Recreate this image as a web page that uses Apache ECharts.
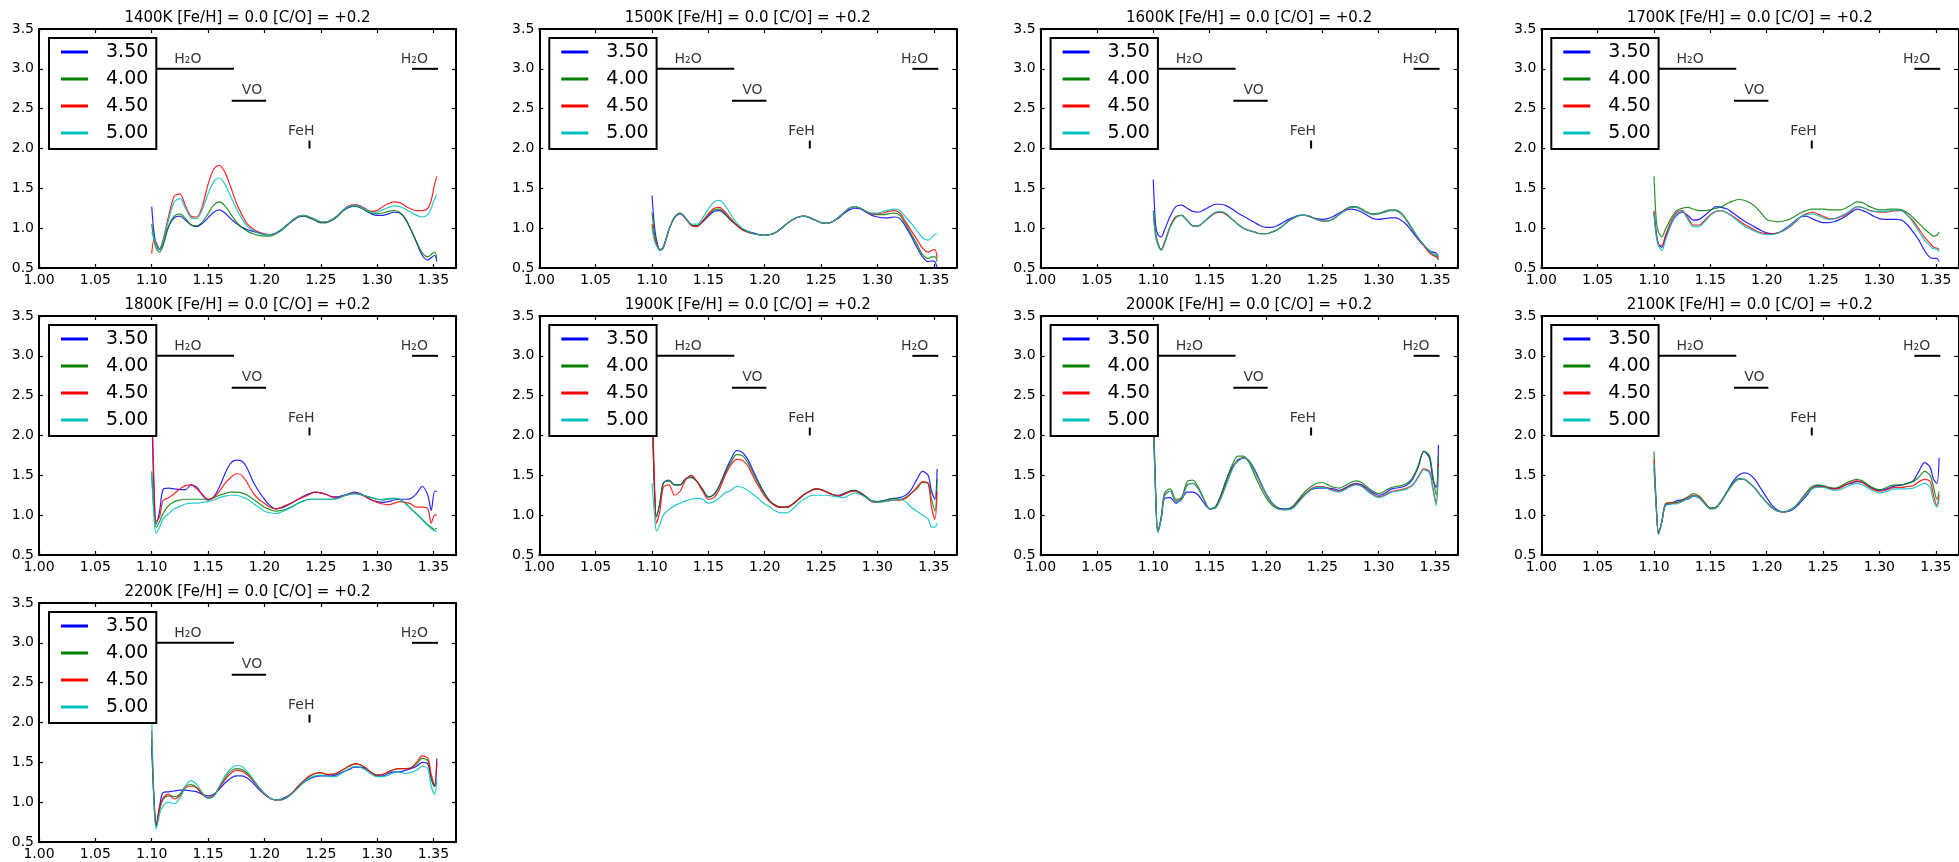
<!DOCTYPE html>
<html>
<head>
<meta charset="utf-8">
<script src="https://cdn.jsdelivr.net/npm/echarts/dist/echarts.min.js"></script>
<style>
  html, body { margin: 0; padding: 0; background: #fff; }
  #chart { width: 1959px; height: 862px; }
</style>
</head>
<body>
<div id="chart"></div>
<script>
// Wavelength grid (micron) shared by every spectrum
const wavelength = [
  1.100, 1.102, 1.104, 1.107, 1.110,
  1.115, 1.120, 1.125, 1.130, 1.135,
  1.140, 1.145, 1.150, 1.155, 1.160,
  1.165, 1.170, 1.175, 1.180, 1.185,
  1.190, 1.195, 1.200, 1.205, 1.210,
  1.215, 1.220, 1.225, 1.230, 1.235,
  1.240, 1.245, 1.250, 1.255, 1.260,
  1.265, 1.270, 1.275, 1.280, 1.285,
  1.290, 1.295, 1.300, 1.305, 1.310,
  1.315, 1.320, 1.325, 1.330, 1.335,
  1.340, 1.345, 1.348, 1.351, 1.353
];

// Surface gravities (log g) shown in each legend
const gravities = ['3.50', '4.00', '4.50', '5.00'];

// Effective temperatures, one panel each
const temperatures = ['1400K', '1500K', '1600K', '1700K', '1800K', '1900K', '2000K', '2100K', '2200K'];
const titleSuffix = ' [Fe/H] = 0.0 [C/O] = +0.2';

// Axis ticks
const xTicks = [1.00, 1.05, 1.10, 1.15, 1.20, 1.25, 1.30, 1.35];
const yTicks = [0.5, 1.0, 1.5, 2.0, 2.5, 3.0, 3.5];

// Absorption band markers: [x0, x1, y0, y1]
const bandLines = [
  [1.090, 1.173, 3.0, 3.0],
  [1.171, 1.2015, 2.6, 2.6],
  [1.240, 1.240, 2.0, 2.1],
  [1.331, 1.354, 3.0, 3.0]
];
// Band names: [text, x, y]
const bandLabels = [
  ['H₂O', 1.120, 3.12],
  ['VO', 1.180, 2.73],
  ['FeH', 1.221, 2.21],
  ['H₂O', 1.321, 3.12]
];

// Normalised flux per panel, one row per gravity (3.50, 4.00, 4.50, 5.00)
const flux1400 = [
  [1.27,0.95,0.80,0.73,0.80, 1.02,1.13,1.15,1.10,1.04, 1.02,1.06,1.13,1.20,1.23, 1.19,1.12,1.06,1.01,0.98, 0.96,0.94,0.92,0.92,0.94, 0.98,1.04,1.09,1.14,1.15, 1.13,1.10,1.07,1.07,1.10, 1.15,1.22,1.26,1.28,1.26, 1.22,1.18,1.16,1.16,1.18, 1.20,1.19,1.12,0.98,0.82, 0.66,0.60,0.63,0.66,0.58],
  [1.05,0.85,0.75,0.70,0.78, 1.02,1.15,1.18,1.12,1.04, 1.03,1.08,1.18,1.29,1.33, 1.28,1.18,1.08,1.01,0.96, 0.93,0.91,0.90,0.90,0.93, 0.98,1.04,1.10,1.14,1.15, 1.13,1.10,1.07,1.07,1.10, 1.15,1.22,1.27,1.28,1.26, 1.22,1.19,1.18,1.19,1.21, 1.22,1.20,1.12,0.98,0.83, 0.69,0.64,0.67,0.70,0.62],
  [0.68,0.85,0.82,0.74,0.85, 1.15,1.40,1.43,1.28,1.15, 1.14,1.28,1.55,1.74,1.79, 1.70,1.52,1.32,1.17,1.05, 0.99,0.95,0.93,0.92,0.93, 0.97,1.03,1.10,1.15,1.16, 1.14,1.11,1.08,1.08,1.11, 1.16,1.23,1.28,1.30,1.28, 1.24,1.21,1.22,1.27,1.31, 1.33,1.32,1.28,1.24,1.22, 1.22,1.25,1.35,1.55,1.65],
  [0.95,0.88,0.80,0.74,0.83, 1.10,1.33,1.37,1.25,1.13, 1.12,1.24,1.43,1.58,1.63, 1.55,1.40,1.25,1.12,1.02, 0.97,0.94,0.92,0.92,0.93, 0.97,1.03,1.10,1.15,1.16, 1.14,1.11,1.08,1.08,1.11, 1.16,1.23,1.27,1.29,1.27, 1.23,1.20,1.20,1.23,1.26, 1.28,1.27,1.24,1.20,1.16, 1.14,1.17,1.25,1.37,1.42]
];
const flux1500 = [
  [1.41,1.05,0.85,0.73,0.76, 0.98,1.13,1.18,1.12,1.04, 1.03,1.08,1.15,1.21,1.22, 1.17,1.10,1.04,0.99,0.96, 0.94,0.92,0.91,0.92,0.95, 1.00,1.06,1.11,1.14,1.15, 1.13,1.10,1.07,1.06,1.08, 1.12,1.18,1.23,1.25,1.24, 1.20,1.16,1.14,1.13,1.13, 1.14,1.12,1.02,0.90,0.76, 0.64,0.58,0.59,0.58,0.50],
  [1.20,0.95,0.82,0.72,0.75, 0.98,1.14,1.19,1.12,1.04, 1.03,1.09,1.17,1.23,1.24, 1.18,1.10,1.04,0.98,0.95, 0.93,0.92,0.91,0.92,0.95, 1.00,1.06,1.11,1.14,1.15, 1.13,1.10,1.07,1.06,1.08, 1.13,1.19,1.25,1.27,1.25, 1.21,1.18,1.17,1.17,1.18, 1.19,1.16,1.05,0.93,0.80, 0.67,0.62,0.64,0.64,0.58],
  [1.05,0.88,0.80,0.73,0.76, 0.98,1.14,1.19,1.12,1.03, 1.02,1.09,1.18,1.25,1.26, 1.20,1.12,1.04,0.98,0.95, 0.93,0.92,0.91,0.92,0.95, 1.00,1.06,1.11,1.14,1.15, 1.13,1.10,1.07,1.06,1.08, 1.13,1.19,1.25,1.27,1.25, 1.21,1.18,1.18,1.19,1.21, 1.22,1.19,1.08,0.97,0.86, 0.75,0.70,0.72,0.73,0.62],
  [1.00,0.85,0.78,0.72,0.76, 0.98,1.14,1.19,1.13,1.05, 1.05,1.13,1.24,1.33,1.35, 1.28,1.17,1.07,1.00,0.96, 0.93,0.92,0.91,0.92,0.95, 1.00,1.06,1.11,1.14,1.15, 1.13,1.10,1.07,1.06,1.08, 1.13,1.19,1.25,1.27,1.25, 1.21,1.19,1.19,1.21,1.23, 1.24,1.22,1.14,1.06,0.97, 0.88,0.85,0.88,0.92,0.93]
];
const flux1600 = [
  [1.61,1.05,0.92,0.89,0.98, 1.15,1.27,1.29,1.25,1.21, 1.20,1.23,1.27,1.30,1.30, 1.28,1.24,1.19,1.15,1.11, 1.07,1.03,1.01,1.01,1.03, 1.07,1.11,1.14,1.16,1.16, 1.14,1.12,1.11,1.12,1.15, 1.19,1.22,1.24,1.23,1.20, 1.16,1.12,1.11,1.12,1.13, 1.13,1.10,1.04,0.95,0.86, 0.78,0.72,0.70,0.69,0.64],
  [1.22,0.95,0.82,0.73,0.82, 1.02,1.14,1.16,1.10,1.03, 1.03,1.08,1.14,1.19,1.20, 1.17,1.11,1.05,1.00,0.97, 0.95,0.93,0.93,0.95,0.98, 1.03,1.09,1.13,1.16,1.16, 1.14,1.11,1.09,1.09,1.12, 1.17,1.23,1.27,1.27,1.24, 1.20,1.18,1.19,1.21,1.23, 1.23,1.19,1.10,0.99,0.88, 0.79,0.70,0.67,0.65,0.60],
  [1.18,0.92,0.80,0.73,0.82, 1.02,1.14,1.16,1.10,1.03, 1.03,1.08,1.14,1.19,1.20, 1.17,1.11,1.05,1.00,0.97, 0.95,0.93,0.93,0.95,0.98, 1.03,1.09,1.13,1.16,1.16, 1.14,1.11,1.09,1.09,1.12, 1.17,1.23,1.26,1.26,1.23, 1.19,1.17,1.18,1.20,1.22, 1.22,1.18,1.09,0.98,0.87, 0.78,0.69,0.66,0.64,0.62],
  [1.20,0.90,0.79,0.72,0.80, 1.01,1.13,1.16,1.10,1.03, 1.03,1.08,1.15,1.20,1.21, 1.18,1.11,1.05,1.00,0.97, 0.95,0.93,0.93,0.95,0.98, 1.03,1.09,1.13,1.16,1.16, 1.14,1.11,1.09,1.09,1.12, 1.17,1.22,1.26,1.26,1.23, 1.19,1.17,1.18,1.20,1.22, 1.22,1.18,1.09,0.98,0.88, 0.79,0.72,0.68,0.67,0.64]
];
const flux1700 = [
  [1.20,0.95,0.80,0.76,0.88, 1.05,1.16,1.20,1.16,1.10, 1.11,1.16,1.22,1.27,1.26, 1.24,1.19,1.14,1.09,1.05, 1.01,0.97,0.94,0.93,0.94, 0.98,1.03,1.09,1.14,1.15, 1.12,1.09,1.07,1.07,1.08, 1.11,1.15,1.20,1.24,1.22, 1.19,1.15,1.12,1.11,1.11, 1.11,1.10,1.04,0.95,0.85, 0.72,0.63,0.62,0.62,0.58],
  [1.65,1.10,0.95,0.89,0.98, 1.12,1.22,1.25,1.26,1.24, 1.22,1.22,1.23,1.25,1.27, 1.31,1.34,1.36,1.35,1.32, 1.27,1.19,1.11,1.09,1.08, 1.09,1.11,1.15,1.19,1.22, 1.24,1.24,1.24,1.23,1.23, 1.23,1.25,1.29,1.33,1.32, 1.28,1.25,1.23,1.23,1.24, 1.24,1.23,1.19,1.13,1.06, 0.99,0.93,0.90,0.91,0.95],
  [1.22,0.92,0.80,0.78,0.90, 1.08,1.20,1.22,1.13,1.04, 1.04,1.10,1.17,1.21,1.22, 1.19,1.15,1.10,1.05,1.01, 0.97,0.94,0.93,0.93,0.94, 0.97,1.01,1.07,1.14,1.18, 1.20,1.18,1.15,1.12,1.12, 1.14,1.17,1.22,1.27,1.26, 1.23,1.21,1.20,1.20,1.21, 1.22,1.22,1.16,1.09,0.99, 0.89,0.81,0.76,0.75,0.73],
  [1.18,0.90,0.78,0.72,0.84, 1.04,1.18,1.21,1.11,1.02, 1.02,1.08,1.16,1.21,1.22, 1.19,1.14,1.08,1.03,0.99, 0.96,0.93,0.92,0.92,0.94, 0.97,1.02,1.08,1.14,1.17, 1.18,1.16,1.13,1.11,1.12, 1.15,1.18,1.23,1.27,1.26, 1.23,1.21,1.21,1.21,1.22, 1.23,1.22,1.16,1.07,0.96, 0.85,0.78,0.74,0.74,0.70]
];
const flux1800 = [
  [2.40,1.30,0.89,1.05,1.32, 1.34,1.33,1.32,1.32,1.38, 1.35,1.25,1.19,1.23,1.35, 1.52,1.65,1.69,1.68,1.58, 1.42,1.30,1.20,1.12,1.08, 1.09,1.12,1.16,1.20,1.24, 1.27,1.29,1.28,1.26,1.23, 1.23,1.25,1.27,1.29,1.27, 1.23,1.19,1.17,1.16,1.17, 1.19,1.20,1.20,1.21,1.27, 1.36,1.25,1.06,1.30,1.30],
  [1.55,1.05,0.85,0.92,1.02, 1.12,1.17,1.19,1.20,1.20, 1.20,1.20,1.20,1.22,1.25, 1.27,1.29,1.29,1.28,1.25, 1.20,1.15,1.10,1.07,1.05, 1.06,1.08,1.11,1.15,1.18, 1.20,1.20,1.20,1.20,1.20, 1.21,1.24,1.26,1.27,1.26, 1.24,1.22,1.20,1.19,1.20, 1.21,1.20,1.15,1.08,1.02, 0.95,0.88,0.85,0.82,0.84],
  [2.60,1.40,0.92,0.98,1.18, 1.22,1.27,1.33,1.37,1.38, 1.33,1.26,1.20,1.22,1.30, 1.40,1.47,1.52,1.50,1.40, 1.28,1.20,1.15,1.10,1.08, 1.10,1.13,1.16,1.20,1.23, 1.26,1.29,1.28,1.26,1.23, 1.22,1.24,1.26,1.28,1.26, 1.23,1.19,1.16,1.14,1.13, 1.15,1.17,1.16,1.14,1.10, 1.10,1.08,0.90,1.00,1.00],
  [1.50,1.00,0.77,0.85,0.95, 1.02,1.08,1.11,1.14,1.15, 1.15,1.16,1.17,1.19,1.22, 1.24,1.25,1.25,1.23,1.20, 1.15,1.10,1.05,1.03,1.02, 1.04,1.07,1.11,1.15,1.18, 1.20,1.20,1.20,1.20,1.20, 1.21,1.24,1.26,1.27,1.26, 1.24,1.22,1.20,1.20,1.21, 1.21,1.20,1.15,1.08,1.01, 0.94,0.87,0.83,0.80,0.80]
];
const flux1900 = [
  [2.50,1.40,0.98,1.15,1.40, 1.44,1.38,1.38,1.46,1.48, 1.42,1.32,1.23,1.26,1.38, 1.55,1.70,1.81,1.79,1.70, 1.55,1.40,1.27,1.17,1.12, 1.10,1.10,1.14,1.20,1.26, 1.30,1.33,1.32,1.29,1.26, 1.25,1.27,1.30,1.31,1.28, 1.23,1.18,1.17,1.18,1.20, 1.21,1.22,1.25,1.32,1.45, 1.55,1.50,1.30,1.20,1.58],
  [2.40,1.40,0.98,1.15,1.40, 1.43,1.38,1.38,1.46,1.47, 1.42,1.32,1.23,1.26,1.37, 1.53,1.66,1.76,1.75,1.66, 1.52,1.38,1.26,1.17,1.12, 1.10,1.10,1.14,1.20,1.26, 1.30,1.33,1.32,1.29,1.26, 1.24,1.26,1.30,1.31,1.28, 1.23,1.18,1.17,1.18,1.20, 1.21,1.20,1.22,1.28,1.33, 1.41,1.40,1.20,1.05,1.45],
  [2.60,1.50,0.90,1.05,1.35, 1.38,1.25,1.30,1.45,1.50, 1.42,1.30,1.20,1.22,1.33, 1.50,1.63,1.70,1.69,1.62, 1.48,1.35,1.24,1.16,1.11, 1.10,1.10,1.14,1.20,1.26, 1.30,1.33,1.32,1.29,1.26, 1.24,1.26,1.29,1.30,1.27, 1.22,1.17,1.16,1.17,1.18, 1.19,1.19,1.21,1.27,1.35, 1.42,1.40,1.10,0.95,1.30],
  [1.40,1.05,0.80,0.88,1.00, 1.07,1.12,1.15,1.18,1.20, 1.21,1.20,1.15,1.17,1.22, 1.28,1.31,1.36,1.35,1.31, 1.26,1.20,1.14,1.10,1.05, 1.03,1.03,1.08,1.15,1.20, 1.24,1.25,1.25,1.25,1.24, 1.23,1.22,1.25,1.28,1.26, 1.22,1.18,1.16,1.17,1.18, 1.19,1.20,1.17,1.10,1.05, 1.00,0.95,0.85,0.85,0.90]
];
const flux2000 = [
  [2.20,1.30,0.80,0.95,1.21, 1.22,1.15,1.20,1.29,1.29, 1.25,1.15,1.08,1.10,1.25, 1.45,1.60,1.68,1.72,1.68, 1.57,1.42,1.27,1.16,1.10, 1.08,1.08,1.12,1.20,1.27, 1.32,1.34,1.34,1.34,1.33, 1.31,1.34,1.38,1.40,1.38, 1.33,1.28,1.25,1.27,1.32, 1.34,1.35,1.38,1.45,1.60, 1.80,1.72,1.45,1.35,1.88],
  [2.40,1.35,0.79,0.98,1.28, 1.33,1.20,1.22,1.42,1.44, 1.35,1.20,1.08,1.10,1.25, 1.45,1.63,1.74,1.74,1.66, 1.50,1.35,1.22,1.13,1.08, 1.07,1.08,1.13,1.22,1.30, 1.36,1.40,1.41,1.38,1.35, 1.34,1.37,1.41,1.43,1.41, 1.35,1.30,1.27,1.30,1.34, 1.36,1.37,1.40,1.47,1.62, 1.80,1.75,1.50,1.25,1.75],
  [2.30,1.30,0.80,0.97,1.25, 1.30,1.18,1.20,1.38,1.40, 1.33,1.19,1.08,1.09,1.22, 1.40,1.58,1.70,1.72,1.68, 1.55,1.40,1.26,1.15,1.09, 1.07,1.07,1.11,1.19,1.27, 1.33,1.36,1.36,1.34,1.31, 1.30,1.33,1.37,1.39,1.37, 1.31,1.26,1.23,1.25,1.29, 1.31,1.32,1.34,1.38,1.48, 1.58,1.55,1.35,1.15,1.65],
  [2.20,1.28,0.78,0.95,1.24, 1.30,1.17,1.19,1.37,1.40, 1.33,1.19,1.08,1.09,1.21, 1.39,1.57,1.69,1.72,1.68, 1.55,1.41,1.27,1.16,1.09, 1.07,1.07,1.10,1.18,1.26, 1.32,1.35,1.35,1.33,1.30, 1.29,1.32,1.36,1.38,1.36, 1.30,1.25,1.22,1.24,1.28, 1.30,1.31,1.33,1.37,1.47, 1.57,1.53,1.33,1.12,1.60]
];
const flux2100 = [
  [1.60,1.10,0.78,0.92,1.12, 1.14,1.18,1.19,1.20,1.24, 1.22,1.15,1.09,1.10,1.18, 1.30,1.42,1.50,1.53,1.51, 1.44,1.33,1.22,1.12,1.06, 1.04,1.05,1.09,1.16,1.24, 1.33,1.37,1.36,1.34,1.33, 1.35,1.38,1.40,1.42,1.41, 1.37,1.33,1.31,1.32,1.35, 1.37,1.38,1.40,1.43,1.55, 1.66,1.60,1.45,1.40,1.72],
  [1.80,1.15,0.77,0.93,1.14, 1.16,1.16,1.19,1.23,1.27, 1.24,1.16,1.09,1.10,1.19, 1.30,1.40,1.46,1.45,1.40, 1.33,1.24,1.16,1.09,1.05, 1.04,1.06,1.11,1.19,1.28, 1.36,1.38,1.37,1.35,1.34, 1.36,1.40,1.43,1.45,1.43, 1.38,1.34,1.32,1.34,1.37, 1.38,1.38,1.40,1.42,1.48, 1.55,1.50,1.35,1.20,1.30],
  [1.70,1.12,0.76,0.92,1.13, 1.15,1.15,1.18,1.22,1.25, 1.23,1.15,1.08,1.09,1.18, 1.29,1.39,1.45,1.45,1.40, 1.33,1.24,1.16,1.09,1.05, 1.04,1.06,1.10,1.18,1.27, 1.34,1.36,1.36,1.34,1.33, 1.34,1.38,1.41,1.43,1.41, 1.36,1.32,1.30,1.31,1.34, 1.35,1.35,1.36,1.37,1.42, 1.45,1.42,1.25,1.12,1.25],
  [1.65,1.10,0.76,0.91,1.12, 1.14,1.14,1.17,1.21,1.24, 1.22,1.14,1.08,1.09,1.18, 1.29,1.39,1.45,1.45,1.40, 1.33,1.24,1.16,1.09,1.05, 1.04,1.06,1.10,1.18,1.26, 1.33,1.35,1.35,1.33,1.31, 1.32,1.35,1.38,1.40,1.38, 1.34,1.30,1.28,1.29,1.32, 1.33,1.33,1.33,1.34,1.37, 1.40,1.35,1.18,1.10,1.20]
];
const flux2200 = [
  [1.70,1.05,0.70,0.95,1.12, 1.13,1.14,1.15,1.15,1.14, 1.13,1.10,1.08,1.10,1.16, 1.24,1.30,1.33,1.33,1.30, 1.24,1.16,1.10,1.05,1.03, 1.04,1.07,1.12,1.19,1.25, 1.29,1.32,1.33,1.33,1.33, 1.35,1.38,1.41,1.44,1.44, 1.42,1.37,1.33,1.33,1.36, 1.38,1.38,1.40,1.42,1.45, 1.50,1.48,1.30,1.20,1.55],
  [1.80,1.00,0.70,0.90,1.03, 1.08,1.07,1.10,1.20,1.22, 1.18,1.10,1.05,1.08,1.19, 1.30,1.39,1.42,1.41,1.36, 1.28,1.19,1.11,1.05,1.03, 1.03,1.06,1.12,1.20,1.27, 1.32,1.36,1.37,1.35,1.35, 1.37,1.41,1.45,1.48,1.47, 1.43,1.37,1.34,1.35,1.38, 1.41,1.42,1.42,1.43,1.48, 1.55,1.52,1.30,1.20,1.25],
  [1.90,1.05,0.72,0.93,1.05, 1.10,1.04,1.08,1.18,1.20, 1.18,1.10,1.06,1.08,1.18, 1.28,1.36,1.40,1.39,1.34, 1.27,1.18,1.10,1.05,1.03, 1.03,1.06,1.12,1.20,1.27, 1.33,1.36,1.37,1.35,1.35, 1.37,1.41,1.45,1.48,1.47, 1.43,1.37,1.34,1.35,1.38, 1.41,1.42,1.42,1.43,1.50, 1.58,1.55,1.35,1.22,1.50],
  [2.10,1.00,0.66,0.85,0.95, 1.00,0.98,1.05,1.20,1.27, 1.22,1.12,1.05,1.07,1.20, 1.33,1.42,1.46,1.45,1.38, 1.29,1.19,1.11,1.05,1.03, 1.03,1.06,1.11,1.18,1.25, 1.30,1.33,1.34,1.33,1.32, 1.33,1.38,1.42,1.45,1.44, 1.40,1.35,1.32,1.32,1.34, 1.37,1.38,1.36,1.37,1.40, 1.45,1.42,1.20,1.10,1.30]
];
const panelFlux = [flux1400, flux1500, flux1600, flux1700, flux1800, flux1900, flux2000, flux2100, flux2200];

// ---------------------------------------------------------------------------
// Layout and styling
const FONT = 'DejaVu Sans';
const seriesColors = ['#0000ff', '#008000', '#ff0000', '#00bfbf'];
const colLeft = [39, 539.3, 1040.6, 1541.3];
const rowTop = [29, 316, 603];
const PW = 417, PH = 239;

const option = {
  animation: false,
  backgroundColor: '#ffffff',
  textStyle: { fontFamily: FONT },
  grid: [], xAxis: [], yAxis: [], legend: [], series: [], graphic: []
};

const frameLine = { show: true, onZero: false, lineStyle: { color: '#000', width: 2 } };
const innerTick = { show: true, inside: true, length: 4, lineStyle: { color: '#000', width: 1.2 } };
const onTick = (v, list) => list.some(t => Math.abs(t - v) < 1e-6);

temperatures.forEach((temp, i) => {
  const left = colLeft[i % 4];
  const top = rowTop[Math.floor(i / 4)];
  option.grid.push({ left: left, top: top, width: PW, height: PH, containLabel: false, outerBoundsMode: 'none' });

  const xBase = { gridIndex: i, type: 'value', min: 1.0, max: 1.37, interval: 0.05,
    axisLine: frameLine, axisTick: innerTick, splitLine: { show: false } };
  const yBase = { gridIndex: i, type: 'value', min: 0.5, max: 3.5, interval: 0.5,
    axisLine: frameLine, axisTick: innerTick, splitLine: { show: false } };

  option.xAxis.push(Object.assign({}, xBase, { position: 'bottom',
    axisLabel: { show: true, margin: 5, color: '#000', fontSize: 14, fontFamily: FONT,
      showMaxLabel: true, formatter: v => onTick(v, xTicks) ? v.toFixed(2) : '' } }));
  option.xAxis.push(Object.assign({}, xBase, { position: 'top', axisLabel: { show: false } }));
  option.yAxis.push(Object.assign({}, yBase, { position: 'left',
    axisLabel: { show: true, margin: 5, color: '#000', fontSize: 14, fontFamily: FONT,
      formatter: v => onTick(v, yTicks) ? v.toFixed(1) : '' } }));
  option.yAxis.push(Object.assign({}, yBase, { position: 'right', axisLabel: { show: false } }));

  const xi = 2 * i, yi = 2 * i;

  // spectra
  panelFlux[i].forEach((row, s) => {
    option.series.push({
      type: 'line', name: gravities[s], xAxisIndex: xi, yAxisIndex: yi,
      data: wavelength.map((w, k) => [w, row[k]]),
      symbol: 'none', showSymbol: false, smooth: 0.3, silent: true, z: 2,
      lineStyle: { color: seriesColors[s], width: 1.2, opacity: 0.85 },
      itemStyle: { color: seriesColors[s] }
    });
  });

  // band markers
  bandLines.forEach(b => {
    option.series.push({
      type: 'line', xAxisIndex: xi, yAxisIndex: yi,
      data: [[b[0], b[2]], [b[1], b[3]]],
      symbol: 'none', silent: true, z: 3,
      lineStyle: { color: '#000', width: 2 }
    });
  });
  option.series.push({
    type: 'scatter', xAxisIndex: xi, yAxisIndex: yi, symbolSize: 0, silent: true, z: 3,
    data: bandLabels.map(b => ({ name: b[0], value: [b[1], b[2]] })),
    label: { show: true, position: 'right', distance: 0, formatter: '{b}',
      color: '#000', fontSize: 14, fontFamily: FONT }
  });

  // legend inside the upper-left corner of each panel
  option.legend.push({
    data: gravities, orient: 'vertical', left: left + 10, top: top + 9,
    padding: [4, 8, 6, 12], itemGap: 7, itemWidth: 27, itemHeight: 3, icon: 'rect',
    backgroundColor: '#fff', borderColor: '#000', borderWidth: 2, borderRadius: 0,
    selectedMode: false,
    textStyle: { fontSize: 19, fontFamily: FONT, color: '#000', lineHeight: 20, padding: [0, 0, 0, 13] }
  });

  // panel title
  option.graphic.push({
    type: 'text', x: left + PW / 2, y: top - 11, silent: true,
    style: { text: temp + titleSuffix, fontSize: 15, fontFamily: FONT, fill: '#000',
      align: 'center', verticalAlign: 'middle', textAlign: 'center', textVerticalAlign: 'middle' }
  });
});

const chart = echarts.init(document.getElementById('chart'), null, { renderer: 'canvas' });
chart.setOption(option);
</script>
</body>
</html>
